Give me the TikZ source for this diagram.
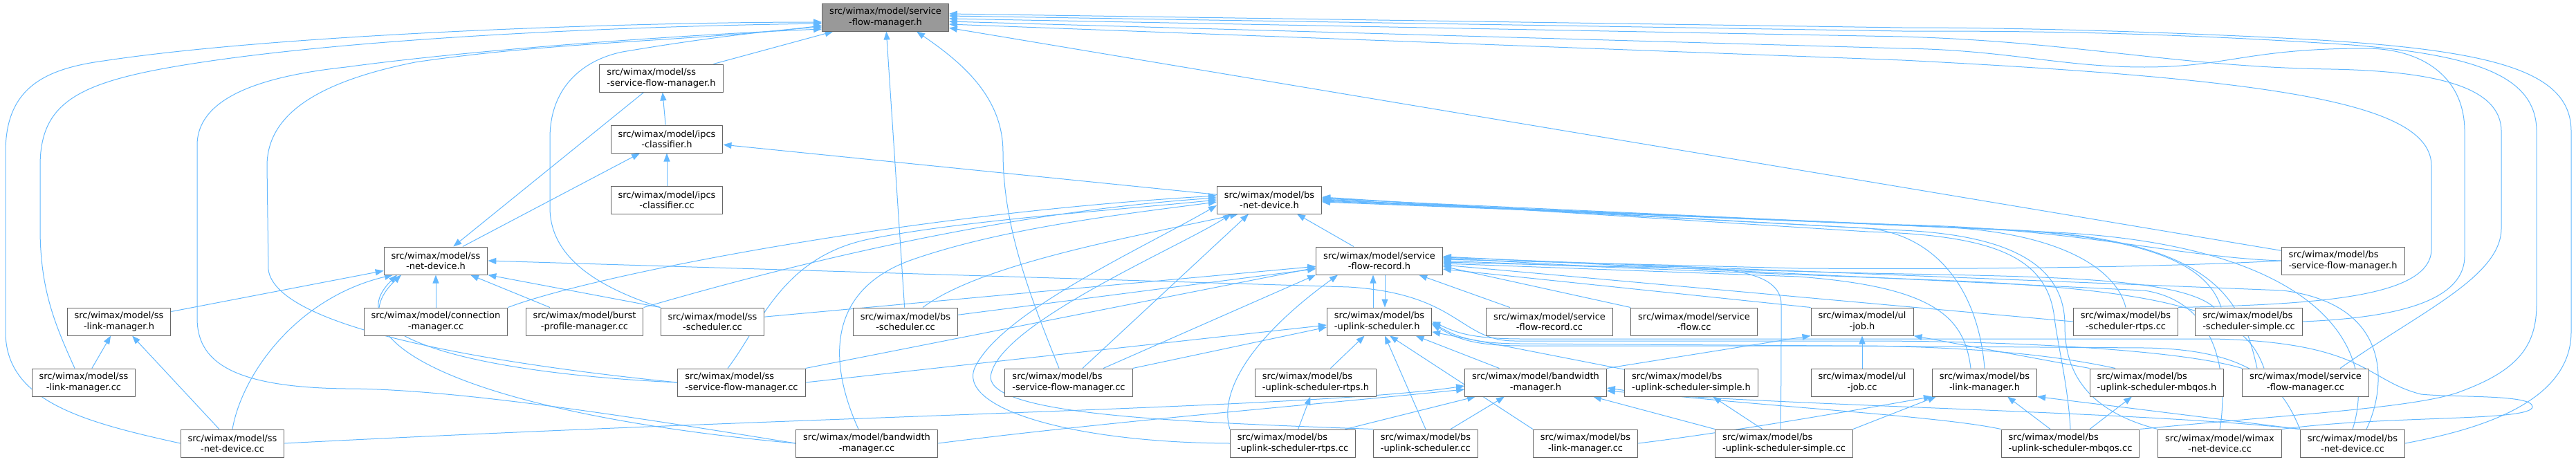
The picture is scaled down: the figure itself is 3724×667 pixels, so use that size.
\documentclass[tikz,border=0pt]{standalone}
\usepackage{fontspec}
\setmainfont{DejaVu Sans}
\usetikzlibrary{arrows.meta,backgrounds}
\definecolor{linkblue}{HTML}{63B8FF}
\definecolor{boxgrey}{HTML}{666666}
\definecolor{rootgrey}{HTML}{999999}
\tikzset{
  file/.style={draw=boxgrey, fill=white, line width=1pt, align=center,
    font=\fontsize{13}{15.5}\selectfont, inner xsep=10.5pt, inner ysep=0pt,
    minimum height=40pt},
  longfile/.style={file, align=left},
  rootfile/.style={file, fill=rootgrey},
  dep/.style={draw=linkblue, line width=1pt, -{Triangle[length=12pt,width=9pt]}},
}
\begin{document}
\begin{tikzpicture}[x=1pt, y=-1pt, line join=round]
\useasboundingbox (0,0) rectangle (3724,667);
% files, one row after the other
\node[rootfile] (sfmh) at (1280,25) {src/wimax/model/service\\-flow-manager.h};
\node[longfile] (sssfmh) at (956,113) {src/wimax/model/ss\\-service-flow-manager.h};
\node[file] (ipcsh) at (964,201) {src/wimax/model/ipcs\\-classifier.h};
\node[file] (ipcscc) at (964,289) {src/wimax/model/ipcs\\-classifier.cc};
\node[file] (bsndh) at (1835,289) {src/wimax/model/bs\\-net-device.h};
\node[file] (ssndh) at (630,377) {src/wimax/model/ss\\-net-device.h};
\node[file] (sfrh) at (1994,377) {src/wimax/model/service\\-flow-record.h};
\node[longfile] (bssfmh) at (3387,377) {src/wimax/model/bs\\-service-flow-manager.h};
\node[file] (sslmh) at (172,465) {src/wimax/model/ss\\-link-manager.h};
\node[file] (cmcc) at (630,465) {src/wimax/model/connection\\-manager.cc};
\node[file] (bpmcc) at (845,465) {src/wimax/model/burst\\-profile-manager.cc};
\node[file] (ssschcc) at (1030,465) {src/wimax/model/ss\\-scheduler.cc};
\node[file] (bsschcc) at (1309,465) {src/wimax/model/bs\\-scheduler.cc};
\node[longfile] (bsulsh) at (1994,465) {src/wimax/model/bs\\-uplink-scheduler.h};
\node[file] (sfrcc) at (2240,465) {src/wimax/model/service\\-flow-record.cc};
\node[file] (sfcc) at (2449,465) {src/wimax/model/service\\-flow.cc};
\node[file] (uljobh) at (2692,465) {src/wimax/model/ul\\-job.h};
\node[file] (bsschrtpscc) at (3073,465) {src/wimax/model/bs\\-scheduler-rtps.cc};
\node[longfile] (bsschsimcc) at (3251,465) {src/wimax/model/bs\\-scheduler-simple.cc};
\node[file] (sslmcc) at (121,553) {src/wimax/model/ss\\-link-manager.cc};
\node[longfile] (sssfmcc) at (1072,553) {src/wimax/model/ss\\-service-flow-manager.cc};
\node[longfile] (bssfmcc) at (1545,553) {src/wimax/model/bs\\-service-flow-manager.cc};
\node[longfile] (bsulsrtpsh) at (1902,553) {src/wimax/model/bs\\-uplink-scheduler-rtps.h};
\node[file] (bwmh) at (2220,553) {src/wimax/model/bandwidth\\-manager.h};
\node[longfile] (bsulssimh) at (2445,553) {src/wimax/model/bs\\-uplink-scheduler-simple.h};
\node[file] (uljobcc) at (2692,553) {src/wimax/model/ul\\-job.cc};
\node[file] (bslmh) at (2869,553) {src/wimax/model/bs\\-link-manager.h};
\node[longfile] (bsulsmbqosh) at (3118,553) {src/wimax/model/bs\\-uplink-scheduler-mbqos.h};
\node[file] (sfmcc) at (3333,553) {src/wimax/model/service\\-flow-manager.cc};
\node[file] (ssndcc) at (336,641) {src/wimax/model/ss\\-net-device.cc};
\node[file] (bwmcc) at (1253,641) {src/wimax/model/bandwidth\\-manager.cc};
\node[longfile] (bsulsrtpscc) at (1869,641) {src/wimax/model/bs\\-uplink-scheduler-rtps.cc};
\node[longfile] (bsulscc) at (2061,641) {src/wimax/model/bs\\-uplink-scheduler.cc};
\node[file] (bslmcc) at (2292,641) {src/wimax/model/bs\\-link-manager.cc};
\node[longfile] (bsulssimcc) at (2579,641) {src/wimax/model/bs\\-uplink-scheduler-simple.cc};
\node[longfile] (bsulsmbqoscc) at (2993,641) {src/wimax/model/bs\\-uplink-scheduler-mbqos.cc};
\node[file] (wndcc) at (3209,641) {src/wimax/model/wimax\\-net-device.cc};
\node[file] (bsndcc) at (3401,641) {src/wimax/model/bs\\-net-device.cc};
\begin{scope}[on background layer]
% into the root
\draw[dep] (sssfmh) -- (sfmh);
\draw[dep] (bsschcc) -- (sfmh);
\draw[dep] (bssfmh) -- (sfmh);
\draw[dep] ([xshift=-14pt]bssfmcc.north) .. controls (1490,430) and (1450,330) .. (1450,220) .. controls (1450,140) and (1390,90) .. ([xshift=45pt]sfmh.south);
\draw[dep] (ssndcc.west) .. controls (120,610) and (8,580) .. (8,480) -- (8,220) .. controls (8,130) and (60,100) .. (150,88) .. controls (400,50) and (900,32) .. ([yshift=-7pt]sfmh.west);
\draw[dep] ([xshift=-13pt]sslmcc.north) .. controls (80,470) and (58,420) .. (58,330) -- (58,240) .. controls (58,150) and (110,120) .. (260,95) .. controls (500,55) and (900,38) .. ([yshift=-9pt]sfmh.west);
\draw[dep] (bwmcc.west) .. controls (900,600) and (650,562) .. (500,562) .. controls (330,560) and (285,520) .. (285,460) -- (285,210) .. controls (285,140) and (380,110) .. (500,97) .. controls (700,70) and (1000,50) .. ([yshift=-17pt]sfmh.west);
\draw[dep] (sssfmcc.west) .. controls (750,530) and (400,480) .. (388,390) -- (386,240) .. controls (386,170) and (450,120) .. (600,90) .. controls (800,60) and (1000,60) .. ([yshift=-12pt]sfmh.west);
\draw[dep] (ssschcc.north west) .. controls (880,420) and (795,380) .. (795,300) -- (795,200) .. controls (795,120) and (850,85) .. (900,75) .. controls (1000,58) and (1100,45) .. ([yshift=-14pt]sfmh.west);
\draw[dep] (bsschrtpscc.north east) .. controls (3350,440) and (3515,430) .. (3515,360) -- (3515,240) .. controls (3515,150) and (3300,115) .. (2750,87) -- ([yshift=-10pt]sfmh.east);
\draw[dep] (bsschsimcc.east) .. controls (3450,460) and (3563,440) .. (3563,370) -- (3563,190) .. controls (3563,110) and (3500,70) .. (3420,70) .. controls (3250,70) and (3220,97) .. (3100,97) .. controls (2980,97) and (2900,72) .. (2750,70) -- ([yshift=-6pt]sfmh.east);
\draw[dep] ([xshift=50pt]sfmcc.north) .. controls (3500,450) and (3616,400) .. (3616,330) -- (3616,190) .. controls (3616,125) and (3520,103) .. (3370,100) .. controls (3150,97) and (3000,60) .. (2750,53) -- ([yshift=-2pt]sfmh.east);
\draw[dep] (bsulsmbqoscc.north east) .. controls (3300,600) and (3500,590) .. (3560,565) .. controls (3640,535) and (3667,500) .. (3667,440) -- (3667,190) .. controls (3667,110) and (3580,80) .. (3400,65) .. controls (3100,45) and (2900,45) .. (2750,45) -- ([yshift=2pt]sfmh.east);
\draw[dep] (bsndcc.east) .. controls (3560,625) and (3717,590) .. (3717,480) -- (3717,190) .. controls (3717,100) and (3600,70) .. (3300,55) .. controls (3000,40) and (2800,40) .. (2750,40) -- ([yshift=5pt]sfmh.east);
% upper headers
\draw[dep] (ipcsh) -- (sssfmh);
\draw[dep] (ipcscc) -- (ipcsh);
\draw[dep] (bsndh) -- (ipcsh);
\draw[dep] (ssndh) -- (ipcsh);
\draw[dep] (sssfmh) -- (ssndh);
% ss net device
\draw[dep] (sslmh) -- (ssndh);
\draw[dep] (cmcc) -- (ssndh);
\draw[dep] (bpmcc) -- (ssndh);
\draw[dep] (ssschcc.north west) -- (ssndh.south east);
\draw[dep] (ssndcc.north) .. controls (350,540) and (430,430) .. ([xshift=-62pt]ssndh.south);
\draw[dep] (sssfmcc.west) .. controls (700,540) and (480,490) .. ([xshift=-56pt]ssndh.south);
\draw[dep] (bwmcc.west) .. controls (700,600) and (470,500) .. ([xshift=-50pt]ssndh.south);
\draw[dep] (sfmcc.north west) .. controls (3150,505) and (2900,493) .. (2700,493) -- (2190,493) .. controls (2110,493) and (2110,425) .. (1950,415) -- (ssndh.east);
% bs net device
\draw[dep] (cmcc.north east) .. controls (850,400) and (1300,310) .. ([yshift=6pt]bsndh.west);
\draw[dep] (bpmcc.north east) .. controls (1050,410) and (1400,310) .. ([yshift=3pt]bsndh.west);
\draw[dep] ([xshift=-20pt]sssfmcc.north) .. controls (1100,470) and (1130,370) .. (1260,345) .. controls (1400,318) and (1600,305) .. (bsndh.west);
\draw[dep] ([xshift=-12pt]bwmcc.north) .. controls (1200,530) and (1190,420) .. (1320,375) .. controls (1450,330) and (1620,310) .. ([yshift=-3pt]bsndh.west);
\draw[dep] (bsulsrtpscc.west) .. controls (1550,640) and (1380,590) .. (1410,530) .. controls (1450,450) and (1650,360) .. ([yshift=-8pt]bsndh.west);
\draw[dep] (bsulscc.north west) .. controls (1700,610) and (1432,600) .. (1432,545) .. controls (1440,470) and (1700,360) .. ([xshift=-55pt]bsndh.south);
\draw[dep] ([xshift=25pt]bsschcc.north) .. controls (1420,380) and (1650,340) .. ([xshift=-45pt]bsndh.south);
\draw[dep] ([xshift=20pt]bssfmcc.north) -- ([xshift=-30pt]bsndh.south);
\draw[dep] ([xshift=-37pt]sfrh.north) -- ([xshift=40pt]bsndh.south);
\draw[dep] (bssfmh.west) .. controls (3150,372) and (3000,330) .. (2750,325) -- ([yshift=-3pt]bsndh.east);
\draw[dep] (bsschrtpscc.north) .. controls (3060,390) and (2980,335) .. (2800,328) -- ([yshift=-2pt]bsndh.east);
\draw[dep] ([xshift=-40pt]bsschsimcc.north) .. controls (3190,380) and (3100,338) .. (2850,330) -- ([yshift=-1pt]bsndh.east);
\draw[dep] ([xshift=-70pt]sfmcc.north) .. controls (3240,430) and (3200,345) .. (2900,332) -- (bsndh.east);
\draw[dep] (bslmh.north) .. controls (2860,420) and (2800,340) .. (2700,330) -- ([yshift=1pt]bsndh.east);
\draw[dep] (bsndcc.north) .. controls (3440,500) and (3350,350) .. (2950,335) -- ([yshift=2pt]bsndh.east);
\draw[dep] (wndcc.north west) .. controls (3000,590) and (2985,520) .. (2985,470) .. controls (2985,380) and (2900,340) .. (2750,333) -- ([yshift=3pt]bsndh.east);
\draw[dep] (bsulsmbqoscc.north) .. controls (2990,560) and (2975,500) .. (2970,460) .. controls (2960,370) and (2880,340) .. (2700,335) -- ([yshift=4pt]bsndh.east);
% service flow record
\draw[dep] (ssschcc) -- (sfrh);
\draw[dep] (bsschcc) -- (sfrh);
\draw[dep] (sssfmcc.north east) -- ([yshift=-10pt]sfrh.west);
\draw[dep] ([xshift=50pt]bssfmcc.north) -- (sfrh.south west);
\draw[dep] (bsulsrtpscc.north west) .. controls (1760,560) and (1820,480) .. ([xshift=-60pt]sfrh.south);
\draw[dep] ([xshift=-9pt]bsulsh.north) -- ([xshift=-9pt]sfrh.south);
\draw[dep] ([xshift=8pt]sfrh.south) -- ([xshift=8pt]bsulsh.north);
\draw[dep] (sfrcc) -- (sfrh);
\draw[dep] (sfcc.north west) -- ([yshift=-8pt]sfrh.east);
\draw[dep] (uljobh.north west) -- ([yshift=-12pt]sfrh.east);
\draw[dep] (bsschrtpscc.west) -- ([yshift=-6pt]sfrh.east);
\draw[dep] ([xshift=-50pt]bsschsimcc.north) .. controls (3150,400) and (2950,400) .. (2700,395) -- ([yshift=-2pt]sfrh.east);
\draw[dep] (bssfmh.west) .. controls (3150,385) and (2900,390) .. (2600,388) -- ([yshift=2pt]sfrh.east);
\draw[dep] ([xshift=-60pt]sfmcc.north) .. controls (3250,470) and (3200,420) .. (2800,405) -- (sfrh.east);
\draw[dep] ([xshift=-20pt]bslmh.north) .. controls (2840,460) and (2800,415) .. (2600,400) -- ([yshift=-4pt]sfrh.east);
\draw[dep] ([xshift=-5pt]bsulssimcc.north) .. controls (2575,560) and (2575,500) .. (2575,440) .. controls (2575,380) and (2450,385) .. (2300,385) -- ([yshift=4pt]sfrh.east);
\draw[dep] ([xshift=20pt]bsndcc.north) .. controls (3450,560) and (3460,440) .. (3300,420) -- (2600,392) -- ([yshift=5pt]sfrh.east);
\draw[dep] (wndcc.north) .. controls (3215,590) and (3230,440) .. (3100,420) -- (2600,396) -- ([yshift=6pt]sfrh.east);
% uplink scheduler
\draw[dep] (sssfmcc.east) -- ([yshift=-5pt]bsulsh.west);
\draw[dep] (bssfmcc.north east) -- ([yshift=-8pt]bsulsh.west);
\draw[dep] (bsulsrtpsh) -- (bsulsh);
\draw[dep] (bwmh) -- (bsulsh);
\draw[dep] (bslmcc.north west) -- ([xshift=15pt]bsulsh.south);
\draw[dep] (bsulscc.north) -- ([xshift=8pt]bsulsh.south);
\draw[dep] (bsulssimh) -- (bsulsh);
\draw[dep] ([xshift=-60pt]bsulsmbqosh.north) .. controls (3000,520) and (2900,503) .. (2700,500) -- (2200,500) .. controls (2120,500) and (2100,485) .. ([yshift=-4pt]bsulsh.east);
\draw[dep] (bsndcc.north west) .. controls (3300,560) and (3260,505) .. (3100,503) -- (2200,497) .. controls (2120,497) and (2100,483) .. ([yshift=-2pt]bsulsh.east);
\draw[dep] (wndcc.north east) .. controls (3450,600) and (3661,610) .. (3661,588) .. controls (3661,570) and (3550,575) .. (3500,570) .. controls (3420,550) and (3420,495) .. (3200,490) -- (2200,490) .. controls (2120,490) and (2100,478) .. (bsulsh.east);
% lower headers
\draw[dep] (ssndcc) -- (sslmh);
\draw[dep] (sslmcc) -- (sslmh);
\draw[dep] (ssndcc.east) .. controls (1200,600) and (1900,590) .. ([yshift=-5pt]bwmh.west);
\draw[dep] (bwmcc.east) .. controls (1600,610) and (1900,585) .. ([yshift=-10pt]bwmh.west);
\draw[dep] ([xshift=76pt]bsulsrtpscc.north) -- ([xshift=-87pt]bwmh.south);
\draw[dep] ([xshift=36pt]bsulscc.north) -- ([xshift=-45pt]bwmh.south);
\draw[dep] (bsulssimcc.north west) -- ([xshift=83pt]bwmh.south);
\draw[dep] (bsulsmbqoscc.north west) .. controls (2800,600) and (2500,585) .. ([yshift=-8pt]bwmh.east);
\draw[dep] (bsndcc.north west) .. controls (3100,595) and (2600,588) .. ([yshift=-12pt]bwmh.east);
\draw[dep] (bwmh.north east) -- (uljobh.south west);
\draw[dep] (uljobcc) -- (uljobh);
\draw[dep] (bsulsmbqosh.north west) -- (uljobh.south east);
\draw[dep] (bsulsrtpscc) -- (bsulsrtpsh);
\draw[dep] (bsulssimcc) -- (bsulssimh);
\draw[dep] (bslmcc.east) .. controls (2500,625) and (2700,590) .. (bslmh.south west);
\draw[dep] (bsulssimcc.north east) -- ([xshift=-70pt]bslmh.south);
\draw[dep] ([xshift=-29pt]bsulsmbqoscc.north) -- ([xshift=33pt]bslmh.south);
\draw[dep] ([xshift=28pt]bsulsmbqoscc.north) -- ([xshift=-36pt]bsulsmbqosh.south);
\draw[dep] (bsndcc.north west) -- (bslmh.south east);
\end{scope}
\end{tikzpicture}
\end{document}
